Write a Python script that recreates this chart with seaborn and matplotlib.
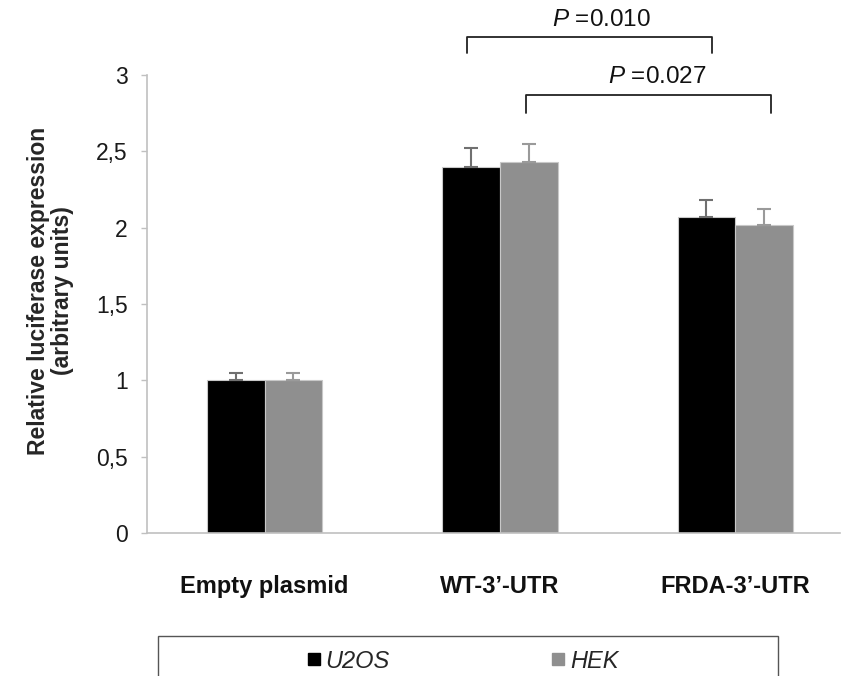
import matplotlib
matplotlib.use("Agg")
import matplotlib.pyplot as plt
import seaborn as sns
import pandas as pd
import numpy as np
from matplotlib.lines import Line2D
from matplotlib.patches import Rectangle

categories = ["Empty plasmid", "WT-3\u2019-UTR", "FRDA-3\u2019-UTR"]
cell_lines = ["U2OS", "HEK"]
u2os_values = [1.00, 2.40, 2.07]
hek_values = [1.00, 2.43, 2.015]
u2os_err = [0.05, 0.12, 0.11]
hek_err = [0.05, 0.12, 0.105]
y_ticks = [0, 0.5, 1, 1.5, 2, 2.5, 3]
y_tick_labels = ["0", "0,5", "1", "1,5", "2", "2,5", "3"]
p_labels = ["0.010", "0.027"]

sns.set_theme(style="white")
plt.rcParams["font.family"] = ["Liberation Sans", "DejaVu Sans"]
plt.rcParams["mathtext.fontset"] = "custom"
plt.rcParams["mathtext.rm"] = "Liberation Sans"
plt.rcParams["mathtext.it"] = "Liberation Sans:italic"

df = pd.DataFrame({
    "category": categories * 2,
    "line": [cell_lines[0]] * 3 + [cell_lines[1]] * 3,
    "value": u2os_values + hek_values,
})
colors = {"U2OS": "#000000", "HEK": "#8f8f8f"}

fig = plt.figure(figsize=(8.44, 6.76), dpi=100)
W, H = 844, 676
ax = fig.add_axes([147 / W, (H - 533) / H, (840 - 147) / W, (533 - 75) / H])

sns.barplot(data=df, x="category", y="value", hue="line", order=categories,
            hue_order=cell_lines, palette=colors, width=0.49, gap=0,
            errorbar=None, ax=ax, legend=False, edgecolor="#c8c8c8", linewidth=0.8)

# error bars (upper only)
patches = ax.patches
err_all = [u2os_err, hek_err]
vals_all = [u2os_values, hek_values]
ecolors = ["#707070", "#9a9a9a"]
for h in range(2):
    for i in range(3):
        p = patches[h * 3 + i]
        xc = p.get_x() + p.get_width() / 2
        ax.errorbar(xc, vals_all[h][i], yerr=[[0], [err_all[h][i]]], fmt="none",
                    ecolor=ecolors[h], elinewidth=1.5, capsize=5, capthick=1.5, zorder=3)

ax.set_ylim(0, 3)
ax.set_xlim(-0.5, 2.445)
ax.set_yticks(y_ticks)
ax.set_yticklabels(y_tick_labels, fontsize=16.5, color="#1a1a1a")
ax.set_xticks(range(3))
ax.set_xticklabels(categories, fontsize=17, fontweight="bold", color="#111111")
ax.set_xticks([-0.5, 0.5, 1.5], minor=True)
ax.tick_params(axis="x", which="major", length=0, pad=30)
ax.tick_params(axis="x", which="minor", length=8, width=1, color="#c0c0c0", direction="out")
ax.tick_params(axis="y", which="major", length=4, width=1, color="#c0c0c0", direction="out", left=True, pad=10)
ax.set_xlabel("")
ax.set_ylabel("Relative luciferase expression\n(arbitrary units)", fontsize=16.5,
              fontweight="bold", linespacing=1.05)
ax.yaxis.set_label_coords((74 - 147) / (840 - 147), (533 - 291) / 458)
for s in ["top", "right"]:
    ax.spines[s].set_visible(False)
for s in ["left", "bottom"]:
    ax.spines[s].set_color("#c0c0c0")
    ax.spines[s].set_linewidth(1.2)

# significance brackets
def bracket(x0, x1, ytop, ybot, label, tx, ty):
    ax.plot([x0, x0, x1, x1], [ybot, ytop, ytop, ybot], color="#222222", lw=1.3, clip_on=False)
    ax.text(tx, ty, r"$\it{P}$ =" + label, fontsize=17.5, ha="center", va="center",
            color="#111111")

bracket(0.86, 1.90, 3.25, 3.145, p_labels[0], 1.43, 3.36)
bracket(1.11, 2.15, 2.87, 2.75, p_labels[1], 1.67, 2.985)

# legend box
fig.patches.append(Rectangle((158 / W, -0.05), (778 - 158) / W, (H - 636) / H + 0.05,
                             transform=fig.transFigure, fill=False, edgecolor="#555555",
                             lw=1.0))
handles = [Line2D([], [], marker="s", linestyle="none", markersize=8,
                  markerfacecolor=colors[c], markeredgecolor=colors[c]) for c in cell_lines]
leg = fig.legend(handles, cell_lines, loc="center", bbox_to_anchor=(462 / W, (H - 661) / H),
                 ncol=2, frameon=False, columnspacing=6.8, handletextpad=0.15,
                 handlelength=0.7, prop={"size": 17, "style": "italic"})

fig.savefig("out.png", dpi=100)
